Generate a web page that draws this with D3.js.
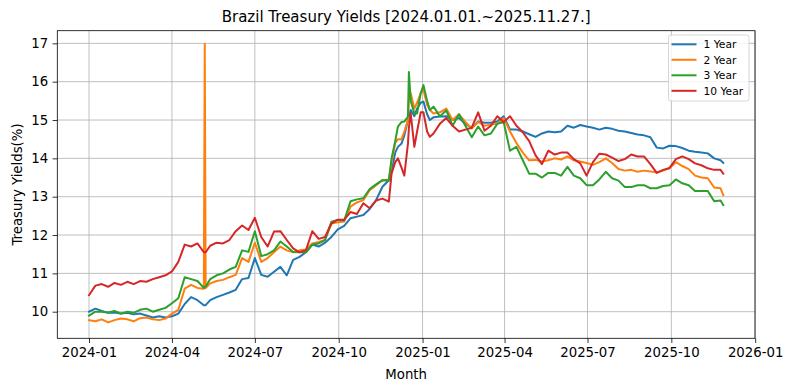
<!DOCTYPE html>
<html>
<head>
<meta charset="utf-8">
<script src="https://cdn.jsdelivr.net/npm/d3@7"></script>
<style>
  html, body { margin: 0; padding: 0; background: #fff; }
  svg { display: block; font-family: "DejaVu Sans", sans-serif; }
</style>
</head>
<body>
<svg id="chart" width="793" height="391"></svg>
<script>
// ---- Data ----
const dates = [
  "2024-01-01","2024-01-08","2024-01-15","2024-01-22","2024-01-29","2024-02-05","2024-02-12","2024-02-19","2024-02-26",
  "2024-03-04","2024-03-11","2024-03-18","2024-03-25","2024-04-01","2024-04-08","2024-04-15","2024-04-22","2024-04-29",
  "2024-05-06","2024-05-07","2024-05-08","2024-05-13","2024-05-20","2024-05-27","2024-06-03","2024-06-10","2024-06-17","2024-06-24",
  "2024-07-01","2024-07-08","2024-07-15","2024-07-22","2024-07-29","2024-08-05","2024-08-12","2024-08-19","2024-08-26",
  "2024-09-02","2024-09-09","2024-09-16","2024-09-23","2024-09-30","2024-10-07","2024-10-14","2024-10-21","2024-10-28",
  "2024-11-04","2024-11-11","2024-11-18","2024-11-25","2024-11-28","2024-12-02","2024-12-05","2024-12-09","2024-12-12",
  "2024-12-16","2024-12-17","2024-12-19","2024-12-23","2024-12-26","2024-12-30","2025-01-02","2025-01-06","2025-01-09",
  "2025-01-13","2025-01-20","2025-01-27","2025-02-03","2025-02-10","2025-02-17","2025-02-24",
  "2025-03-03","2025-03-10","2025-03-17","2025-03-24","2025-03-31","2025-04-07","2025-04-14","2025-04-21","2025-04-28",
  "2025-05-05","2025-05-12","2025-05-19","2025-05-26","2025-06-02","2025-06-09","2025-06-16","2025-06-23","2025-06-30",
  "2025-07-07","2025-07-14","2025-07-21","2025-07-28","2025-08-04","2025-08-11","2025-08-18","2025-08-25","2025-09-01",
  "2025-09-08","2025-09-15","2025-09-22","2025-09-29","2025-10-06","2025-10-13","2025-10-20","2025-10-27","2025-11-03",
  "2025-11-10","2025-11-17","2025-11-24","2025-11-27"
];

const year1 = [
  10.00,10.08,10.02,9.97,9.98,9.95,9.97,9.93,9.95,
  9.90,9.85,9.88,9.85,9.88,9.95,10.20,10.38,10.30,
  10.17,10.17,10.17,10.30,10.38,10.44,10.50,10.57,10.85,10.88,
  11.40,10.96,10.91,11.04,11.17,10.95,11.35,11.43,11.55,
  11.75,11.70,11.80,11.95,12.15,12.24,12.44,12.48,12.52,
  12.68,12.91,13.26,13.43,13.65,14.15,14.30,14.39,14.60,
  15.00,15.10,15.26,15.10,15.30,15.45,15.48,15.15,15.00,
  15.07,15.09,15.10,15.00,15.05,14.90,14.80,
  14.96,14.93,14.93,14.96,15.10,14.75,14.75,14.70,14.63,
  14.56,14.65,14.70,14.68,14.70,14.85,14.80,14.87,14.83,
  14.80,14.75,14.80,14.77,14.72,14.70,14.66,14.62,14.60,
  14.55,14.28,14.26,14.33,14.32,14.27,14.20,14.17,14.15,
  14.13,14.00,13.95,13.88
];

const year2 = [
  9.78,9.75,9.80,9.72,9.78,9.82,9.80,9.75,9.83,
  9.85,9.80,9.78,9.82,9.95,10.05,10.60,10.70,10.62,
  10.60,16.98,10.62,10.74,10.80,10.83,10.90,10.96,11.40,11.30,
  11.80,11.30,11.40,11.55,11.70,11.60,11.55,11.60,11.62,
  11.78,11.82,11.87,12.30,12.33,12.35,12.74,12.85,12.91,
  13.17,13.30,13.43,13.45,13.90,14.40,14.50,14.50,14.70,
  15.00,15.50,15.70,15.30,15.45,15.70,15.78,15.40,15.26,
  15.17,15.20,15.30,15.00,15.15,14.95,14.78,
  14.95,14.85,14.88,14.90,15.05,14.70,14.40,14.15,13.95,
  13.96,13.92,13.95,14.00,13.97,14.05,13.95,13.92,13.88,
  13.83,13.90,14.00,13.88,13.72,13.68,13.70,13.65,13.68,
  13.66,13.63,13.68,13.74,13.90,13.80,13.72,13.55,13.50,
  13.48,13.24,13.22,13.04
];

const year3 = [
  9.90,10.00,10.00,9.98,10.02,9.95,10.00,9.97,10.05,
  10.08,10.00,10.05,10.10,10.22,10.35,10.90,10.85,10.80,
  10.62,10.65,10.65,10.85,10.95,11.00,11.10,11.17,11.60,11.56,
  12.10,11.45,11.50,11.60,11.83,11.70,11.56,11.55,11.55,
  11.75,11.78,11.87,12.35,12.39,12.38,12.88,12.93,12.96,
  13.20,13.32,13.43,13.42,14.00,14.45,14.83,14.95,14.96,
  15.09,16.25,15.50,15.17,15.17,15.70,15.91,15.50,15.26,
  15.35,15.10,15.25,14.85,15.15,14.85,14.55,
  14.83,14.60,14.65,14.90,14.95,14.20,14.30,13.95,13.60,
  13.60,13.50,13.62,13.62,13.55,13.78,13.55,13.48,13.30,
  13.30,13.45,13.65,13.48,13.42,13.25,13.25,13.30,13.30,
  13.22,13.22,13.28,13.30,13.45,13.35,13.30,13.15,13.15,
  13.15,12.88,12.90,12.78
];

const year10 = [
  10.43,10.68,10.72,10.65,10.75,10.70,10.78,10.72,10.80,
  10.78,10.85,10.90,10.95,11.05,11.30,11.75,11.70,11.78,
  11.55,11.55,11.55,11.72,11.80,11.78,11.87,12.10,12.25,12.13,
  12.45,11.95,11.70,12.09,12.10,11.87,11.65,11.55,11.60,
  12.10,11.90,11.95,12.30,12.40,12.40,12.60,12.55,12.83,
  12.70,12.90,12.95,12.87,13.60,13.90,14.00,13.75,13.55,
  14.39,14.80,15.17,14.30,14.70,15.20,15.20,14.70,14.56,
  14.65,14.90,15.05,14.85,14.70,14.75,14.80,
  15.20,14.72,14.85,15.10,14.95,15.10,14.85,14.68,14.45,
  14.08,13.85,14.20,14.10,14.15,14.15,13.98,13.87,13.55,
  13.90,14.12,14.10,14.02,13.93,13.98,14.10,14.05,14.05,
  13.85,13.62,13.70,13.75,13.98,14.05,13.98,13.87,13.82,
  13.74,13.70,13.70,13.60
];

const seriesNames = ["1 Year", "2 Year", "3 Year", "10 Year"];
const seriesColors = ["#1f77b4", "#ff7f0e", "#2ca02c", "#d62728"];
const yTickValues = [10, 11, 12, 13, 14, 15, 16, 17];
const xTickDates = ["2024-01-01","2024-04-01","2024-07-01","2024-10-01","2025-01-01","2025-04-01","2025-07-01","2025-10-01","2026-01-01"];

const titleText = "Brazil Treasury Yields [2024.01.01.~2025.11.27.]";
const xLabel = "Month";
const yLabel = "Treasury Yields(%)";

// ---- Layout ----
const W = 793, H = 391;
const margin = { left: 57.3, right: 38, top: 30.7, bottom: 52.7 };
const iw = W - margin.left - margin.right;
const ih = H - margin.top - margin.bottom;

const parse = d3.utcParse("%Y-%m-%d");
const dateObjs = dates.map(parse);
const seriesValues = [year1, year2, year3, year10];

const t0 = dateObjs[0].getTime(), t1 = dateObjs[dateObjs.length - 1].getTime();
const pad = (t1 - t0) * 0.05;
const x = d3.scaleUtc().domain([new Date(t0 - pad), new Date(t1 + pad)]).range([0, iw]);
const y = d3.scaleLinear().domain([9.306, 17.33]).range([ih, 0]);

const svg = d3.select("#chart");
const g = svg.append("g").attr("transform", `translate(${margin.left},${margin.top})`);

// grid
const gridColor = "#b0b0b0";
g.append("g").selectAll("line").data(xTickDates.map(parse)).join("line")
  .attr("x1", d => x(d)).attr("x2", d => x(d)).attr("y1", 0).attr("y2", ih)
  .attr("stroke", gridColor).attr("stroke-width", 0.8);
g.append("g").selectAll("line").data(yTickValues).join("line")
  .attr("x1", 0).attr("x2", iw).attr("y1", d => y(d)).attr("y2", d => y(d))
  .attr("stroke", gridColor).attr("stroke-width", 0.8);

// lines
g.append("clipPath").attr("id", "clip").append("rect")
  .attr("width", iw).attr("height", ih);
const line = d3.line().x((d, i) => x(dateObjs[i])).y(d => y(d));
const linesG = g.append("g").attr("clip-path", "url(#clip)");
seriesValues.forEach((vals, si) => {
  linesG.append("path").datum(vals)
    .attr("d", line)
    .attr("fill", "none")
    .attr("stroke", seriesColors[si])
    .attr("stroke-width", 2)
    .attr("stroke-linejoin", "round")
    .attr("stroke-linecap", "square");
});

// axes
const fmt = d3.utcFormat("%Y-%m");
const xAxis = d3.axisBottom(x).tickValues(xTickDates.map(parse)).tickFormat(fmt)
  .tickSizeOuter(0).tickSize(4.7).tickPadding(4.5);
const yAxis = d3.axisLeft(y).tickValues(yTickValues).tickFormat(d3.format("d"))
  .tickSizeOuter(0).tickSize(4.7).tickPadding(4.5);

const gx = g.append("g").attr("transform", `translate(0,${ih})`).call(xAxis);
const gy = g.append("g").call(yAxis);
[gx, gy].forEach(a => {
  a.select(".domain").remove();
  a.selectAll(".tick line").attr("stroke", "#000").attr("stroke-width", 0.8);
  a.selectAll(".tick text").attr("fill", "#000")
    .style("font-family", "'DejaVu Sans', sans-serif").style("font-size", "13.3px");
});

// spines
g.append("rect").attr("x", 0).attr("y", 0).attr("width", iw).attr("height", ih)
  .attr("fill", "none").attr("stroke", "#000").attr("stroke-width", 0.8);

// title & labels
svg.append("text").attr("x", margin.left + iw / 2).attr("y", 21.5)
  .attr("text-anchor", "middle").style("font-size", "15px").attr("fill", "#000")
  .text(titleText);
svg.append("text").attr("x", margin.left + iw / 2).attr("y", 379)
  .attr("text-anchor", "middle").style("font-size", "13.3px").attr("fill", "#000")
  .text(xLabel);
svg.append("text").attr("transform", `translate(21.5,${margin.top + ih / 2}) rotate(-90)`)
  .attr("text-anchor", "middle").style("font-size", "13.3px").attr("fill", "#000")
  .text(yLabel);

// legend
const lg = svg.append("g").attr("transform", "translate(668.5,35)");
lg.append("rect").attr("x", 0).attr("y", 0).attr("width", 80.5).attr("height", 66)
  .attr("rx", 2.5).attr("fill", "#fff").attr("fill-opacity", 0.8)
  .attr("stroke", "#cccccc").attr("stroke-width", 0.8);
seriesNames.forEach((name, i) => {
  const cy = 9.3 + i * 15.5;
  lg.append("line").attr("x1", 3).attr("x2", 28).attr("y1", cy).attr("y2", cy)
    .attr("stroke", seriesColors[i]).attr("stroke-width", 2);
  lg.append("text").attr("x", 35).attr("y", cy).attr("dy", "0.35em")
    .style("font-size", "10.7px").attr("fill", "#000").text(name);
});
</script>
</body>
</html>
